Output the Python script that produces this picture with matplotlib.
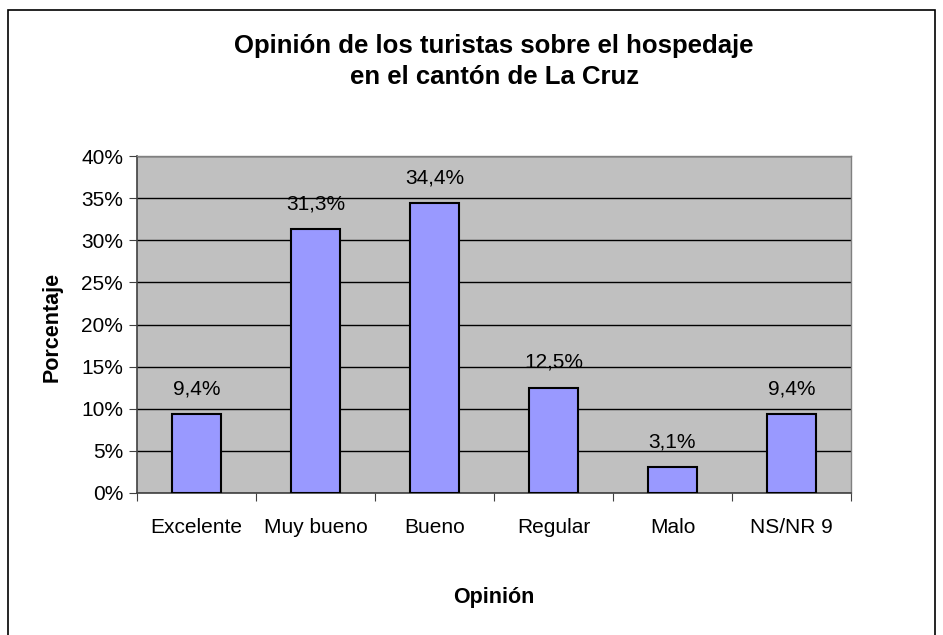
import matplotlib
matplotlib.use("Agg")
import matplotlib.pyplot as plt
from matplotlib.patches import Rectangle
from matplotlib.ticker import FixedLocator, NullFormatter

plt.rcParams['font.family'] = ['Liberation Sans', 'DejaVu Sans']

categories = ["Excelente", "Muy bueno", "Bueno", "Regular", "Malo", "NS/NR 9"]
values = [9.4, 31.3, 34.4, 12.5, 3.1, 9.4]
labels = ["9,4%", "31,3%", "34,4%", "12,5%", "3,1%", "9,4%"]
yticks = [0, 5, 10, 15, 20, 25, 30, 35, 40]

W, H = 943, 635
fig = plt.figure(figsize=(W / 100, H / 100), dpi=100)

# outer chart frame
fig.patches.append(Rectangle((8 / W, -0.05), (935 - 8) / W, 1.05 - 10 / H,
                             transform=fig.transFigure, fill=False,
                             edgecolor='black', linewidth=1.2))

left, right, top, bottom = 137, 851, 156, 493
ax = fig.add_axes([left / W, 1 - bottom / H, (right - left) / W, (bottom - top) / H])
ax.set_facecolor('#C0C0C0')

x = list(range(len(categories)))
ax.bar(x, values, width=0.42, color='#9999FF', edgecolor='black', linewidth=1.5, zorder=3)
for xi, v, lab in zip(x, values, labels):
    ax.text(xi, v + 3.0, lab, ha='center', va='center', fontsize=15, color='black', zorder=4)

ax.set_xlim(-0.5, len(categories) - 0.5)
ax.set_ylim(0, 40)
ax.set_yticks(yticks)
ax.set_yticklabels([f"{t}%" for t in yticks], fontsize=15)
ax.yaxis.grid(True, color='black', linewidth=1.0, zorder=1)
ax.set_axisbelow(True)

# category labels centred, tick marks between categories
ax.xaxis.set_major_locator(FixedLocator([i - 0.5 for i in range(len(categories) + 1)]))
ax.xaxis.set_major_formatter(NullFormatter())
ax.xaxis.set_minor_locator(FixedLocator(x))
ax.set_xticklabels(categories, minor=True, fontsize=15)
ax.tick_params(axis='x', which='minor', length=0, pad=18)
ax.tick_params(axis='x', which='major', length=6, color='#404040', direction='out')
ax.tick_params(axis='y', length=6, color='#404040', direction='out', pad=4)

for s in ['top', 'right']:
    ax.spines[s].set_color('#808080')
    ax.spines[s].set_linewidth(1.0)
for s in ['left', 'bottom']:
    ax.spines[s].set_color('#404040')
    ax.spines[s].set_linewidth(1.2)

fig.text(494 / W, 1 - 46 / H, "Opinión de los turistas sobre el hospedaje",
         ha='center', va='center', fontsize=18.5, fontweight='bold')
fig.text(494 / W, 1 - 77 / H, "en el cantón de La Cruz",
         ha='center', va='center', fontsize=18.5, fontweight='bold')
fig.text(494 / W, 1 - 598 / H, "Opinión", ha='center', va='center',
         fontsize=15.5, fontweight='bold')
fig.text(52 / W, 1 - 327 / H, "Porcentaje", ha='center', va='center',
         rotation=90, fontsize=15.5, fontweight='bold')

fig.savefig("out.png", dpi=100)
